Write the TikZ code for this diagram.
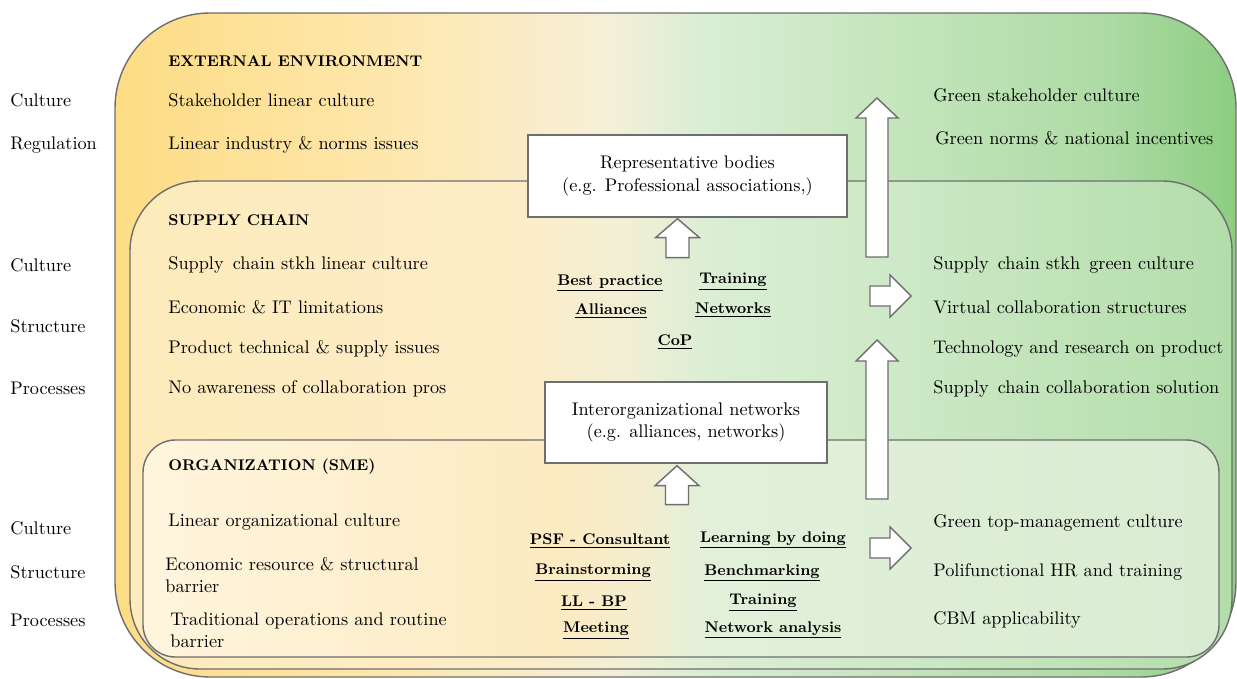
\documentclass[tikz,border=0pt]{standalone}
\usetikzlibrary{calc}

\definecolor{envA}{HTML}{FDDC84}
\definecolor{envB}{HTML}{FEE8B0}
\definecolor{envC}{HTML}{F6EFD8}
\definecolor{envD}{HTML}{DAEED5}
\definecolor{envE}{HTML}{C4E5BC}
\definecolor{envF}{HTML}{AEDBA5}
\definecolor{envG}{HTML}{8CCE82}
\definecolor{scA}{HTML}{FEEBBB}
\definecolor{scB}{HTML}{FCEDC8}
\definecolor{scC}{HTML}{F2EFD5}
\definecolor{scD}{HTML}{DCEED5}
\definecolor{scE}{HTML}{CDE9C6}
\definecolor{scF}{HTML}{B3DDAB}
\definecolor{orgA}{HTML}{FFF5DE}
\definecolor{orgB}{HTML}{FCEBC1}
\definecolor{orgC}{HTML}{F5EDCE}
\definecolor{orgD}{HTML}{E2F0DA}
\definecolor{orgE}{HTML}{D9ECD2}
\definecolor{edge}{HTML}{6E6E6E}

\pgfdeclarehorizontalshading{envshade}{100bp}{color(0bp)=(envA); color(25bp)=(envA); color(38bp)=(envB); color(47bp)=(envC); color(51bp)=(envD); color(60bp)=(envE); color(69bp)=(envF); color(75bp)=(envG); color(100bp)=(envG)}
\pgfdeclarehorizontalshading{scshade}{100bp}{color(0bp)=(scA); color(25bp)=(scA); color(43bp)=(scB); color(47.5bp)=(scC); color(51bp)=(scD); color(60bp)=(scE); color(75bp)=(scF); color(100bp)=(scF)}
\pgfdeclarehorizontalshading{orgshade}{100bp}{color(0bp)=(orgA); color(25bp)=(orgA); color(44bp)=(orgB); color(48bp)=(orgC); color(51bp)=(orgD); color(75bp)=(orgE); color(100bp)=(orgE)}

\tikzset{
  layer/.style={draw=edge, line width=0.8pt},
  txt/.style={anchor=west, inner sep=0pt, font=\fontsize{10.4}{12.6}\selectfont},
  head/.style={anchor=west, inner sep=0pt, font=\fontsize{8.8}{11}\selectfont\bfseries},
  tool/.style={inner sep=0pt, font=\fontsize{8.8}{11}\selectfont\bfseries},
  bodybox/.style={draw=edge, line width=0.8pt, fill=white, align=center, inner sep=0pt, font=\fontsize{10.4}{12.6}\selectfont},
  blockarrow/.style={draw=edge, line width=0.8pt, fill=white, line join=miter}
}

\begin{document}
\begin{tikzpicture}[x=0.02cm, y=-0.02cm]
    \useasboundingbox (0,0) rectangle (1237,679);

      % Nested layers
      \path[layer, shading=envshade, rounded corners=1.9cm] (115,13) rectangle (1236,677);
      \path[layer, shading=scshade, rounded corners=1.4cm] (130,181) rectangle (1232,669);
      \path[layer, shading=orgshade, rounded corners=0.65cm] (143,440) rectangle (1219,657);

      % Bodies
      \node[bodybox, minimum width=6.38cm, minimum height=1.64cm] (rep) at (687.5,176)
        {Representative bodies\\(e.g. Professional associations,)};
      \node[bodybox, minimum width=5.64cm, minimum height=1.62cm] (inter) at (686,422.5)
        {Interorganizational networks\\(e.g. alliances, networks)};

      % Left labels
      \node[txt] (cultA) at (10,100) {Culture};
      \node[txt] (regA) at (10,145) {Regulation};
      \node[txt] (cultB) at (10,265) {Culture};
      \node[txt] (strB) at (10,326) {Structure};
      \node[txt] (procB) at (10,388) {Processes};
      \node[txt] (cultC) at (10,528) {Culture};
      \node[txt] (strC) at (10,572) {Structure};
      \node[txt] (procC) at (10,620) {Processes};

      % Barriers
      \node[head] (env) at (168,61) {EXTERNAL ENVIRONMENT};
      \node[txt] (envA) at (168,100) {Stakeholder linear culture};
      \node[txt] (envB) at (168,145) {Linear industry \& norms issues};
      \node[head] (sc) at (168,220) {SUPPLY CHAIN};
      \node[txt] (scA) at (168,265) {Supply\, chain stkh linear culture};
      \node[txt] (scB) at (168,307) {Economic \& IT limitations};
      \node[txt] (scC) at (168,349) {Product technical \& supply issues};
      \node[txt] (scD) at (168,389) {No awareness of collaboration pros};
      \node[head] (org) at (168,467) {ORGANIZATION (SME)};
      \node[txt] (orgA) at (168,522) {Linear organizational culture};
      \node[txt, align=left] (orgB) at (165,575) {Economic resource \& structural\\barrier};
      \node[txt, align=left] (orgC) at (170,630) {Traditional operations and routine\\barrier};

      % Tools
      \node[tool] (best) at (610,283) {\underline{Best practice}};
      \node[tool] (trainA) at (733,282) {\underline{Training}};
      \node[tool] (alli) at (611,311) {\underline{Alliances}};
      \node[tool] (netw) at (733,310) {\underline{Networks}};
      \node[tool] (cop) at (675,342) {\underline{CoP}};
      \node[tool] (psf) at (600,541) {\underline{PSF - Consultant}};
      \node[tool] (lbd) at (773,540) {\underline{Learning by doing}};
      \node[tool] (brain) at (593,573) {\underline{Brainstorming}};
      \node[tool] (bench) at (762,573) {\underline{Benchmarking}};
      \node[tool] (llbp) at (594,603) {\underline{LL - BP}};
      \node[tool] (trainB) at (763,603) {\underline{Training}};
      \node[tool] (meet) at (596,631) {\underline{Meeting}};
      \node[tool] (neta) at (773,630) {\underline{Network analysis}};

      % Outcomes
      \node[txt] (grA) at (933,95) {Green stakeholder culture};
      \node[txt] (grB) at (935,138) {Green norms \& national incentives};
      \node[txt] (grC) at (933,265) {Supply\, chain stkh\, green culture};
      \node[txt] (grD) at (933,307) {Virtual collaboration structures};
      \node[txt] (grE) at (933,349) {Technology and research on product};
      \node[txt] (grF) at (933,389) {Supply\, chain collaboration solution};
      \node[txt] (grG) at (933,523) {Green top-management culture};
      \node[txt] (grH) at (933,572) {Polifunctional HR and training};
      \node[txt] (grI) at (933,620) {CBM applicability};

      % Arrow ends
      \coordinate (envtip) at (877,98);
      \coordinate (scbase) at (877,257);
      \coordinate (sctip) at (877,340);
      \coordinate (orgbase) at (877,499);
      \coordinate (scright) at (911,296);
      \coordinate (orgright) at (911,548);

      % Block arrows
      \draw[blockarrow] ($(rep.south)+(-10,1)$) -- ++(22,19) -- ++(-10.5,0) -- ++(0,20)
        -- ++(-23,0) -- ++(0,-20) -- ++(-10.5,0) -- cycle;
      \draw[blockarrow] ($(inter.south)+(-9,2)$) -- ++(22,20) -- ++(-10.5,0) -- ++(0,19)
        -- ++(-23,0) -- ++(0,-19) -- ++(-10.5,0) -- cycle;
      \draw[blockarrow] (envtip) -- ++(21,20) -- ++(-10,0) -- ($(scbase)+(11,0)$)
        -- ($(scbase)+(-11,0)$) -- ($(envtip)+(-11,20)$) -- ++(-10,0) -- cycle;
      \draw[blockarrow] (sctip) -- ++(21,21) -- ++(-10,0) -- ($(orgbase)+(11,0)$)
        -- ($(orgbase)+(-11,0)$) -- ($(sctip)+(-11,21)$) -- ++(-10,0) -- cycle;
      \draw[blockarrow] (scright) -- ++(-21,-21) -- ++(0,11) -- ++(-20,0) -- ++(0,20)
        -- ++(20,0) -- ++(0,11) -- cycle;
      \draw[blockarrow] (orgright) -- ++(-21,-21) -- ++(0,11) -- ++(-20,0) -- ++(0,20)
        -- ++(20,0) -- ++(0,11) -- cycle;
    \end{tikzpicture}
\end{document}
